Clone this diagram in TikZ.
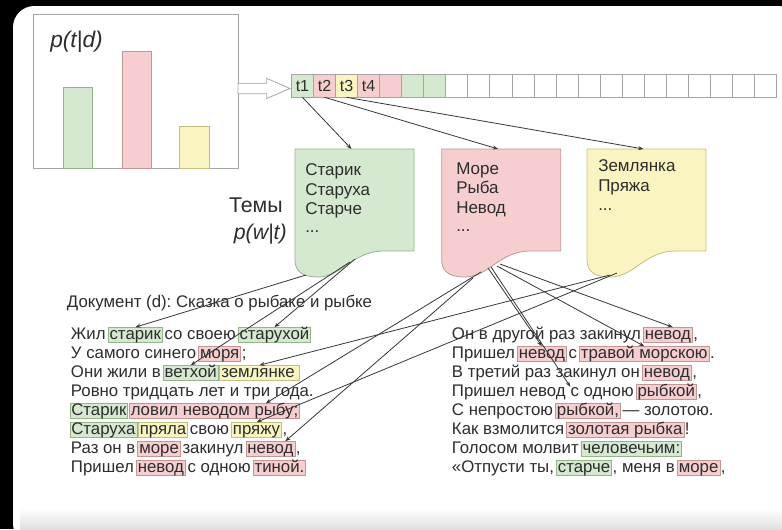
\documentclass[tikz,border=0pt]{standalone}
\usepackage{fontspec}
\setmainfont{Liberation Sans}
\frenchspacing
\usetikzlibrary{calc,arrows.meta}
\definecolor{gfill}{RGB}{213,232,208}
\definecolor{gline}{RGB}{150,180,140}
\definecolor{pfill}{RGB}{247,206,208}
\definecolor{pline}{RGB}{195,150,150}
\definecolor{yfill}{RGB}{250,245,192}
\definecolor{yline}{RGB}{195,190,130}
\definecolor{txt}{RGB}{45,45,45}
\definecolor{frm}{RGB}{165,165,165}
\definecolor{conn}{RGB}{55,55,55}
\begin{document}
\begin{tikzpicture}[x=0.75pt,y=-0.75pt,
  seg/.style={inner sep=0pt, anchor=base west, text=txt, font=\fontsize{12.6}{14}\selectfont},
  hl/.style={seg, draw, inner xsep=1.1pt, inner ysep=0.4pt, text height=8.2pt, text depth=2.4pt, line width=0.5pt},
  hg/.style={hl, fill=gfill, draw=gline},
  hp/.style={hl, fill=pfill, draw=pline},
  hy/.style={hl, fill=yfill, draw=yline},
  topictxt/.style={inner sep=0pt, anchor=base west, text=txt, font=\fontsize{12.75}{15}\selectfont},
  cellbox/.style={draw=frm, line width=0.6pt, minimum width=22.05*0.75pt, minimum height=22.5*0.75pt, inner sep=0pt, anchor=north west, text=txt, font=\fontsize{12}{14}\selectfont},
  conn/.style={draw=conn, line width=0.6pt, -{Stealth[length=4pt,width=3pt]}},
  bigtxt/.style={inner sep=0pt, text=txt, font=\fontsize{16}{18}\selectfont}
]
\useasboundingbox (0,0) rectangle (782,529);
% background slide
\fill[black] (0,0) rectangle (782,529);
\fill[white, rounded corners=16pt] (13,6) rectangle (800,545);
\shade[top color=white, bottom color=black!12] (20,508) rectangle (782,529);
\fill[white] (13,480) -- (13,508) -- (782,508) -- (782,480) -- cycle;

% chart
\draw[frm, line width=0.6pt, fill=white] (33,14) rectangle (238,168);
\draw[gline, fill=gfill, line width=0.5pt] (63,168) rectangle (92,87);
\draw[pline, fill=pfill, line width=0.5pt] (122,168) rectangle (151,51);
\draw[yline, fill=yfill, line width=0.5pt] (179,168) rectangle (209,126);
\node[bigtxt, anchor=base west, font=\fontsize{17}{19}\selectfont\itshape] (ptd) at (50,47) {p(t|d)};

% hollow arrow
\draw[frm, line width=0.6pt, fill=white] (238,83.3) -- (266.7,83.3) -- (266.7,78.3) -- (290,88.5) -- (266.7,98.5) -- (266.7,93.7) -- (238,93.7) -- cycle;

% strip
\foreach \i/\c in {1/gfill,2/pfill,3/yfill,4/pfill,5/pfill,6/gfill,7/gfill}{
  \node[cellbox, fill=\c] (c\i) at ({291+(\i-1)*22.05},74) {};
}
\foreach \i in {8,...,22}{
  \node[cellbox, fill=white] (c\i) at ({291+(\i-1)*22.05},74) {};
}
\node[text=txt, font=\fontsize{12}{14}\selectfont, inner sep=0pt] (t1) at (c1.center) {t1};
\node[text=txt, font=\fontsize{12}{14}\selectfont, inner sep=0pt] (t2) at (c2.center) {t2};
\node[text=txt, font=\fontsize{12}{14}\selectfont, inner sep=0pt] (t3) at (c3.center) {t3};
\node[text=txt, font=\fontsize{12}{14}\selectfont, inner sep=0pt] (t4) at (c4.center) {t4};

% topic boxes
\foreach \dx/\f/\l/\n in {0/gfill/gline/G, 146.7/pfill/pline/P, 292/yfill/yline/Y}{
  \begin{scope}[xshift=\dx*0.75pt]
  \draw[draw=\l, fill=\f, line width=0.6pt] (295,149) -- (414,149) -- (414,251) -- (382,251)
     .. controls (352,252) and (342,277) .. (318,277)
     .. controls (301,277) and (295,270) .. (295,260) -- cycle;
  \coordinate (top\n) at (351.5,149);
  \end{scope}
}
\node[topictxt] (g1) at (305,175) {Старик};
\node[topictxt] (g2) at (305,195) {Старуха};
\node[topictxt] (g3) at (305,214.5) {Старче};
\node[topictxt] (g4) at (305,232) {...};
\node[topictxt] (p1) at (456,174) {Море};
\node[topictxt] (p2) at (456,193.5) {Рыба};
\node[topictxt] (p3) at (456,213) {Невод};
\node[topictxt] (p4) at (456,231) {...};
\node[topictxt] (y1) at (598,171) {Землянка};
\node[topictxt] (y2) at (598,191) {Пряжа};
\node[topictxt] (y3) at (598,210) {...};

\node[bigtxt, anchor=base east] (temy) at (283,212) {Темы};
\node[bigtxt, anchor=base east, font=\fontsize{16}{18}\selectfont\itshape] (pwt) at (287,239) {p(w|t)};

% strip -> topics
\draw[conn] (c1.south) -- (topG);
\draw[conn] (c2.south) -- (topP);
\draw[conn] (c3.south) -- (topY);

% document title
\node[seg] (title) at (66.7,307) {Документ (d): Сказка о рыбаке и рыбке};

% left column
\node[seg] (a1a) at (70.7,339) {Жил};
\node[hg] (a1b) at ([xshift=1.4pt]a1a.base east) {старик};
\node[seg] (a1c) at ([xshift=1.2pt]a1b.base east) {со своею};
\node[hg] (a1d) at ([xshift=1.4pt]a1c.base east) {старухой};

\node[seg] (a2a) at (70.7,358) {У самого синего};
\node[hp] (a2b) at ([xshift=1.4pt]a2a.base east) {моря};
\node[seg] (a2c) at ([xshift=0.3pt]a2b.base east) {;};

\node[seg] (a3a) at (70.7,377) {Они жили в};
\node[hg] (a3b) at ([xshift=1.4pt]a3a.base east) {ветхой};
\node[hy] (a3c) at ([xshift=0.6pt]a3b.base east) {землянке\,};

\node[seg] (a4a) at (70.7,396) {Ровно тридцать лет и три года.};

\node[hg] (a5a) at (69.5,415) {Старик};
\node[hp] (a5b) at ([xshift=0.6pt]a5a.base east) {ловил неводом рыбу;};

\node[hg] (a6a) at (69.5,434) {Старуха};
\node[hy] (a6b) at ([xshift=0.6pt]a6a.base east) {пряла};
\node[seg] (a6c) at ([xshift=1.2pt]a6b.base east) {свою};
\node[hy] (a6d) at ([xshift=1.4pt]a6c.base east) {пряжу};
\node[seg] (a6e) at ([xshift=0.3pt]a6d.base east) {,};

\node[seg] (a7a) at (70.7,453) {Раз он в};
\node[hp] (a7b) at ([xshift=1.4pt]a7a.base east) {море};
\node[seg] (a7c) at ([xshift=1.2pt]a7b.base east) {закинул};
\node[hp] (a7d) at ([xshift=1.4pt]a7c.base east) {невод};
\node[seg] (a7e) at ([xshift=0.3pt]a7d.base east) {,};

\node[seg] (a8a) at (70.7,472) {Пришел};
\node[hp] (a8b) at ([xshift=1.4pt]a8a.base east) {невод};
\node[seg] (a8c) at ([xshift=1.2pt]a8b.base east) {с одною};
\node[hp] (a8d) at ([xshift=1.4pt]a8c.base east) {тиной.};

% right column
\node[seg] (b1a) at (451.7,339) {Он в другой раз закинул};
\node[hp] (b1b) at ([xshift=1.4pt]b1a.base east) {невод};
\node[seg] (b1c) at ([xshift=0.3pt]b1b.base east) {,};

\node[seg] (b2a) at (451.7,358) {Пришел};
\node[hp] (b2b) at ([xshift=1.4pt]b2a.base east) {невод};
\node[seg] (b2c) at ([xshift=1.2pt]b2b.base east) {с};
\node[hp] (b2d) at ([xshift=1.4pt]b2c.base east) {травой морскою};
\node[seg] (b2e) at ([xshift=0.3pt]b2d.base east) {.};

\node[seg] (b3a) at (451.7,377) {В третий раз закинул он};
\node[hp] (b3b) at ([xshift=1.4pt]b3a.base east) {невод};
\node[seg] (b3c) at ([xshift=0.3pt]b3b.base east) {,};

\node[seg] (b4a) at (451.7,396) {Пришел невод};
\node[seg] (b4b) at ([xshift=3.3pt]b4a.base east) {с одною};
\node[hp] (b4c) at ([xshift=1.4pt]b4b.base east) {рыбкой};
\node[seg] (b4d) at ([xshift=0.3pt]b4c.base east) {,};

\node[seg] (b5a) at (451.7,415) {С непростою};
\node[hp] (b5b) at ([xshift=1.4pt]b5a.base east) {рыбкой,};
\node[seg] (b5c) at ([xshift=1.2pt]b5b.base east) {— золотою.};

\node[seg] (b6a) at (451.7,434) {Как взмолится};
\node[hp] (b6b) at ([xshift=1.4pt]b6a.base east) {золотая рыбка};
\node[seg] (b6c) at ([xshift=0.3pt]b6b.base east) {!};

\node[seg] (b7a) at (451.7,453) {Голосом молвит};
\node[hg] (b7b) at ([xshift=1.4pt]b7a.base east) {человечьим:};

\node[seg] (b8a) at (451.7,472) {«Отпусти ты,};
\node[hg] (b8b) at ([xshift=1.4pt]b8a.base east) {старче};
\node[seg] (b8c) at ([xshift=0.3pt]b8b.base east) {, меня в};
\node[hp] (b8d) at ([xshift=1.4pt]b8c.base east) {море};
\node[seg] (b8e) at ([xshift=0.3pt]b8d.base east) {,};

% connectors from topics to words
\coordinate (gs1) at (306,275);
\coordinate (gs2) at (355,259);
\coordinate (gs3) at (350,262);
\coordinate (ps2) at (481,272);
\coordinate (ps3) at (473,278);
\coordinate (ps4) at (488,268);
\coordinate (ps5) at (491,267);
\coordinate (ps6) at (497,266);
\coordinate (ps7) at (500,264);
\coordinate (ys1) at (610,275);
\coordinate (ys2) at (617,273);

\draw[conn] (gs1) -- (a1b.north);
\draw[conn] (gs2) -- (a1d.north);
\draw[conn] (gs3) -- (a3b.north);
\draw[conn] (ps2) -- ($(a5b.north west)!0.8!(a5b.north east)$);
\draw[conn] (ps3) -- ($(a7d.north west)!0.8!(a7d.north east)$);
\draw[conn] (ps4) -- (b2b.north);
\draw[conn] (ps5) -- (b4b.north west);
\draw[conn] (ps6) -- ($(b2d.north west)!0.5!(b2d.north east)$);
\draw[conn] (ps7) -- ($(b1b.north west)!0.6!(b1b.north east)$);
\draw[conn] (ys1) -- (a3c.north);
\draw[conn] (ys2) -- (a6d.north);
\end{tikzpicture}
\end{document}
